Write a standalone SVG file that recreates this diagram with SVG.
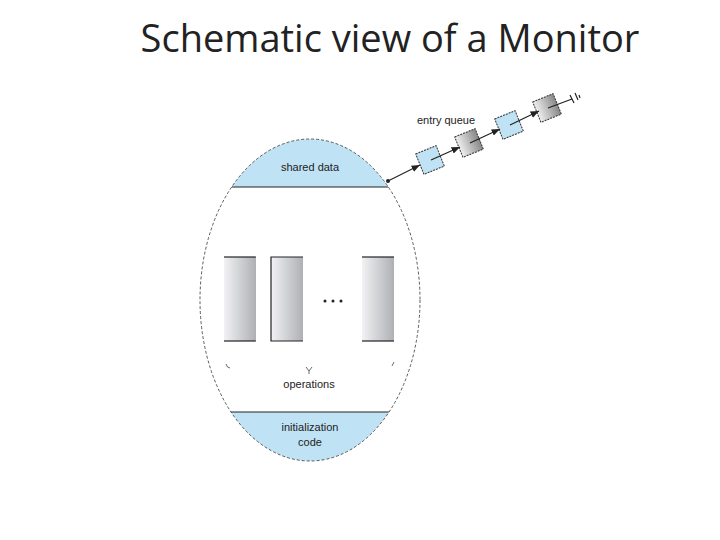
<svg xmlns="http://www.w3.org/2000/svg" width="720" height="540" viewBox="0 0 720 540">
<style>
text{font-family:"Liberation Sans",Arial,sans-serif;fill:#222}
.cap{fill:#bfe3f5}
.q{stroke:#333;stroke-width:1;stroke-dasharray:2 1}
.op{fill:url(#g)}
.ln{stroke:#222;stroke-width:1.2}
</style>
<defs>
<linearGradient id="g" x1="0" x2="1"><stop offset="0" stop-color="#f2f2f4"/><stop offset="1" stop-color="#aeb0b4"/></linearGradient>
<linearGradient id="gq" x1="0" x2="1"><stop offset="0" stop-color="#f0f0f0"/><stop offset="1" stop-color="#888"/></linearGradient>
<clipPath id="ec"><ellipse cx="310" cy="300" rx="110" ry="161"/></clipPath>
<marker id="ah" viewBox="0 0 10 10" refX="10" refY="5" markerWidth="7" markerHeight="7" orient="auto"><path d="M0,1L10,5L0,9z" fill="#222"/></marker>
</defs>
<rect width="720" height="540" fill="#fff"/>
<text x="390" y="52" font-size="38" text-anchor="middle" style="font-family:'Open Sans','Liberation Sans',sans-serif">Schematic view of a Monitor</text>
<g id="monitor">
<g clip-path="url(#ec)">
<rect class="cap" x="190" y="130" width="240" height="57"/>
<rect class="cap" x="190" y="412" width="240" height="60"/>
<line class="ln" x1="190" y1="187" x2="430" y2="187" stroke-width="1"/>
<line class="ln" x1="190" y1="412" x2="430" y2="412" stroke-width="0.8"/>
</g>
<ellipse cx="310" cy="300" rx="110" ry="161" fill="none" stroke="#333" stroke-width="0.8" stroke-dasharray="3 2"/>
<text x="310" y="171" font-size="11" text-anchor="middle">shared data</text>
<text x="310" y="431" font-size="11" text-anchor="middle">initialization</text>
<text x="310" y="446" font-size="11" text-anchor="middle">code</text>
</g>
<g id="operations">
<rect class="op" x="224" y="257" width="32" height="84"/>
<line class="ln" x1="224" y1="257" x2="256" y2="257"/><line class="ln" x1="224" y1="341" x2="256" y2="341"/>
<rect class="op" x="271" y="257" width="32" height="84"/>
<path class="ln" fill="none" d="M303,257H271V341H303"/>
<rect class="op" x="362" y="257" width="32" height="84"/>
<line class="ln" x1="362" y1="257" x2="394" y2="257"/><line class="ln" x1="362" y1="341" x2="394" y2="341"/>
<circle cx="325" cy="301" r="1.5" fill="#222"/><circle cx="333" cy="301" r="1.5" fill="#222"/><circle cx="341" cy="301" r="1.5" fill="#222"/>
<path d="M226,364q1,4 4,4M394,362l-2,4M306,367l3,4l3,-4M309,371v3" fill="none" stroke="#444" stroke-width="0.8"/>
<text x="309" y="388" font-size="11" text-anchor="middle">operations</text>
</g>
<g id="queue">
<text x="446" y="124" font-size="11" text-anchor="middle">entry queue</text>
<g class="q"><rect class="cap" x="-11" y="-11" width="22" height="22" transform="translate(430,160) rotate(-22)"/></g>
<g class="q"><rect fill="url(#gq)" x="-11" y="-11" width="22" height="22" transform="translate(469,143) rotate(-22)"/></g>
<g class="q"><rect class="cap" x="-11" y="-11" width="22" height="22" transform="translate(509,125) rotate(-22)"/></g>
<g class="q"><rect fill="url(#gq)" x="-11" y="-11" width="22" height="22" transform="translate(547,108) rotate(-22)"/></g>
</g>
<g id="connectors" class="ln" fill="none">
<circle cx="388" cy="181" r="2" fill="#222" stroke="none"/>
<line x1="388" y1="181" x2="420" y2="165" marker-end="url(#ah)"/>
<line x1="431" y1="160" x2="460" y2="147" marker-end="url(#ah)"/>
<line x1="470" y1="143" x2="500" y2="129" marker-end="url(#ah)"/>
<line x1="510" y1="125" x2="539" y2="111" marker-end="url(#ah)"/>
<path d="M548,108L572,99M570,95l4,8M575,93l3,7M579,95l1,3"/>
</g>
</svg>
